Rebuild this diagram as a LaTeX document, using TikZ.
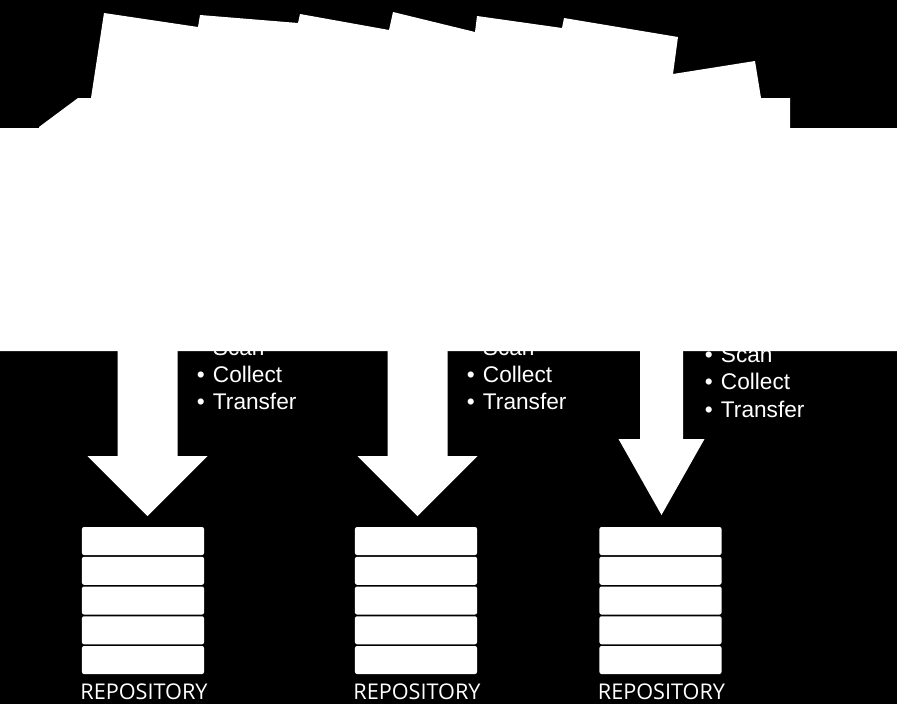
\documentclass[tikz,border=0pt]{standalone}
\usepackage{fontspec}
\setmainfont{Liberation Sans}
\newfontfamily\repofont{Open Sans}
\usetikzlibrary{positioning}
\tikzset{
  slot/.style={fill=white, rounded corners=0.05cm, minimum width=3.05cm,
    minimum height=0.7cm, inner sep=0pt},
  item/.style={text=white, font=\fontsize{16.1}{19.2}\selectfont,
    inner sep=0pt, anchor=base west},
  repolabel/.style={text=white, font=\repofont\fontsize{15.4}{17}\selectfont,
    inner sep=0pt, anchor=base},
}

\begin{document}
\begin{tikzpicture}[x=0.025cm, y=-0.025cm]
  \fill[black] (0,0) rectangle (897,704);
  % bullet lists, the first line runs under the banner
  \foreach \lx/\ly/\dy/\k in {196.5/355/27/1, 466.5/355/27/2, 704.5/362/27.5/3}
    \foreach \w [count=\i] in {Scan,Collect,Transfer}
      \node[item] (list\k-\i) at (\lx,\ly+\dy*\i-\dy) {\makebox[11.5pt][l]{\textbullet}\w};
  % block arrows
  \foreach \cx/\hw/\sw/\hy/\ty in {147.5/60/30/456/516, 417.5/60/30/456/516, 661.5/43/21.5/439/515}
    \fill[white] (\cx-\sw,340) -- (\cx-\sw,\hy) -- (\cx-\hw,\hy) -- (\cx,\ty)
      -- (\cx+\hw,\hy) -- (\cx+\sw,\hy) -- (\cx+\sw,340) -- cycle;
  % banner
  \fill[white] (39,127) -- (78,98) -- (91,98) -- (104,13) -- (198,27) -- (200,15)
    -- (298,23) -- (300,14) -- (389,30) -- (393,12) -- (475,32) -- (477,16)
    -- (562,28) -- (564,18) -- (678,37) -- (673,74) -- (755,61) -- (761,98)
    -- (790,98) -- (790,128) -- (897,128) -- (897,351) -- (0,351) -- (0,128)
    -- (39,128) -- cycle;
  % repositories
  \foreach \rx [count=\k] in {143,416,660.5} {
    \foreach \i in {1,...,5}
      \node[slot] (repo\k-\i) at (\rx,541+29.75*\i-29.75) {};
    \node[repolabel] (label\k) at (\rx+1,699) {REPOSITORY};
  }
\end{tikzpicture}
\end{document}
